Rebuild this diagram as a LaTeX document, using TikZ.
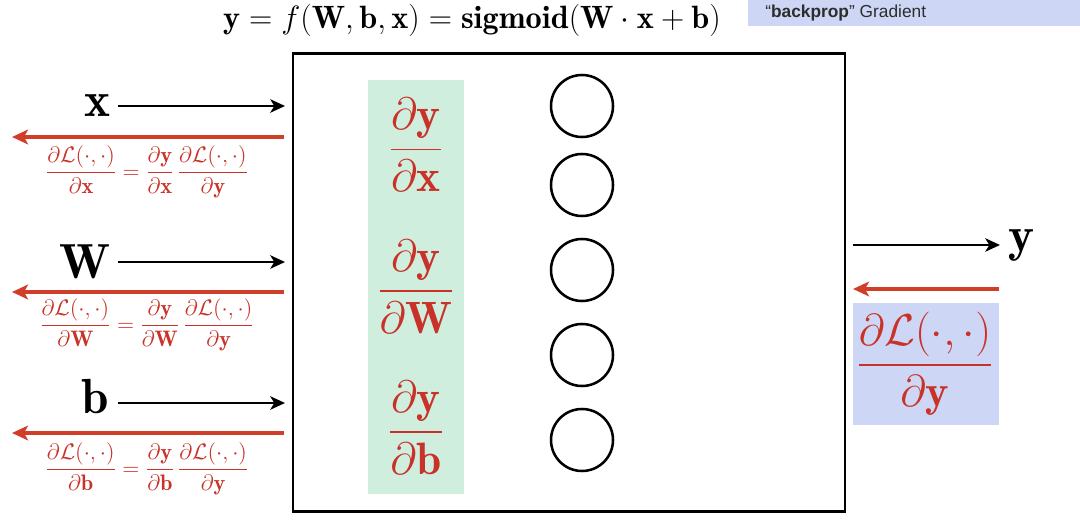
\RequirePackage{fix-cm}
\documentclass[tikz,border=0pt]{standalone}
\usepackage{amsmath}
\usepackage{fontspec}
\newfontfamily\helv{Liberation Sans}
\usetikzlibrary{arrows.meta}
\definecolor{gred}{RGB}{200,50,40}
\definecolor{ared}{RGB}{208,62,42}
\definecolor{gfill}{RGB}{207,238,222}
\definecolor{bfill}{RGB}{205,215,245}
\definecolor{tgray}{RGB}{45,45,45}
\tikzset{
  blk/.style={line width=2.2pt,-{Stealth[length=11pt,width=10pt,inset=3pt]}},
  redarr/.style={ared,line width=3pt,-{Stealth[length=12pt,width=11pt,inset=3pt]}},
  biglab/.style={inner sep=0pt,font=\fontsize{37}{40}\selectfont},
  gradf/.style={gred,inner sep=0pt,font=\fontsize{16.8}{19}\selectfont},
  bigf/.style={gred,inner sep=0pt,font=\fontsize{34}{38}\selectfont},
  bigg/.style={gred,inner sep=0pt,font=\fontsize{33.5}{37}\selectfont},
  neuron/.style={circle,draw,line width=1.9pt,minimum size=46.5pt,inner sep=0pt}
}
\begin{document}
\begin{tikzpicture}[x=0.75pt,y=-0.75pt]
\useasboundingbox (0,0) rectangle (1080,520);
% title
\node[inner sep=0pt,font=\fontsize{24.2}{27}\selectfont] (title) at (472,20) {$\mathbf{y}=f(\mathbf{W},\mathbf{b},\mathbf{x})=\mathbf{sigmoid}(\mathbf{W}\cdot\mathbf{x}+\mathbf{b})$};
\node[fill=bfill,anchor=north west,minimum width=249pt,minimum height=19.5pt,inner sep=0pt] (leg) at (748,0) {};
\node[anchor=west,inner sep=0pt,text=tgray,font=\helv\fontsize{13}{15}\selectfont] (legt) at (765,13) {“\textbf{backprop}” Gradient};
% main box
\node[draw,line width=2.2pt,minimum width=414pt,minimum height=344pt,inner sep=0pt] (box) at (569,282.5) {};
\node[fill=gfill,minimum width=72pt,minimum height=310.5pt,inner sep=0pt] (green) at (416,287) {};
\node[bigf] (gx) at (416,145) {$\dfrac{\partial\mathbf{y}}{\partial\mathbf{x}}$};
\node[bigf] (gw) at (416,287) {$\dfrac{\partial\mathbf{y}}{\partial\mathbf{W}}$};
\node[bigf] (gb) at (416,428) {$\dfrac{\partial\mathbf{y}}{\partial\mathbf{b}}$};
\foreach \i/\yy in {1/106,2/185,3/270,4/355,5/440}{
  \node[neuron] (n\i) at (582,\yy) {};
}
% inputs
\node[biglab] (xl) at (98,106) {$\mathbf{x}$};
\node[biglab] (wl) at (85,262) {$\mathbf{W}$};
\node[biglab] (bl) at (95,397) {$\mathbf{b}$};
\coordinate (xe) at (285,106);
\coordinate (we) at (285,262);
\coordinate (be) at (285,403);
\draw[blk] (118,106) -- (xe);
\draw[blk] (118,262) -- (we);
\draw[blk] (118,403) -- (be);
% backward red arrows on left
\coordinate (xr) at (12,137);
\coordinate (wr) at (12,292);
\coordinate (br) at (12,433);
\draw[redarr] (284,137) -- (xr);
\draw[redarr] (284,292) -- (wr);
\draw[redarr] (284,433) -- (br);
\node[gradf] (fx) at (147,172) {$\dfrac{\partial\mathcal{L}(\cdot,\cdot)}{\partial\mathbf{x}}=\dfrac{\partial\mathbf{y}}{\partial\mathbf{x}}\,\dfrac{\partial\mathcal{L}(\cdot,\cdot)}{\partial\mathbf{y}}$};
\node[gradf] (fw) at (147,325) {$\dfrac{\partial\mathcal{L}(\cdot,\cdot)}{\partial\mathbf{W}}=\dfrac{\partial\mathbf{y}}{\partial\mathbf{W}}\,\dfrac{\partial\mathcal{L}(\cdot,\cdot)}{\partial\mathbf{y}}$};
\node[gradf] (fb) at (147,469) {$\dfrac{\partial\mathcal{L}(\cdot,\cdot)}{\partial\mathbf{b}}=\dfrac{\partial\mathbf{y}}{\partial\mathbf{b}}\,\dfrac{\partial\mathcal{L}(\cdot,\cdot)}{\partial\mathbf{y}}$};
% output
\node[biglab] (yl) at (1022,245) {$\mathbf{y}$};
\coordinate (ys) at (853,245);
\coordinate (ye) at (1000,245);
\draw[blk] (ys) -- (ye);
\coordinate (rs) at (999,289);
\coordinate (re) at (853,289);
\draw[redarr] (rs) -- (re);
\node[fill=bfill,anchor=north west,minimum width=109pt,minimum height=91.5pt,inner sep=0pt] (blue) at (853,303) {};
\node[bigg] (fy) at (925,364) {$\dfrac{\partial\mathcal{L}(\cdot,\cdot)}{\partial\mathbf{y}}$};
\end{tikzpicture}
\end{document}
